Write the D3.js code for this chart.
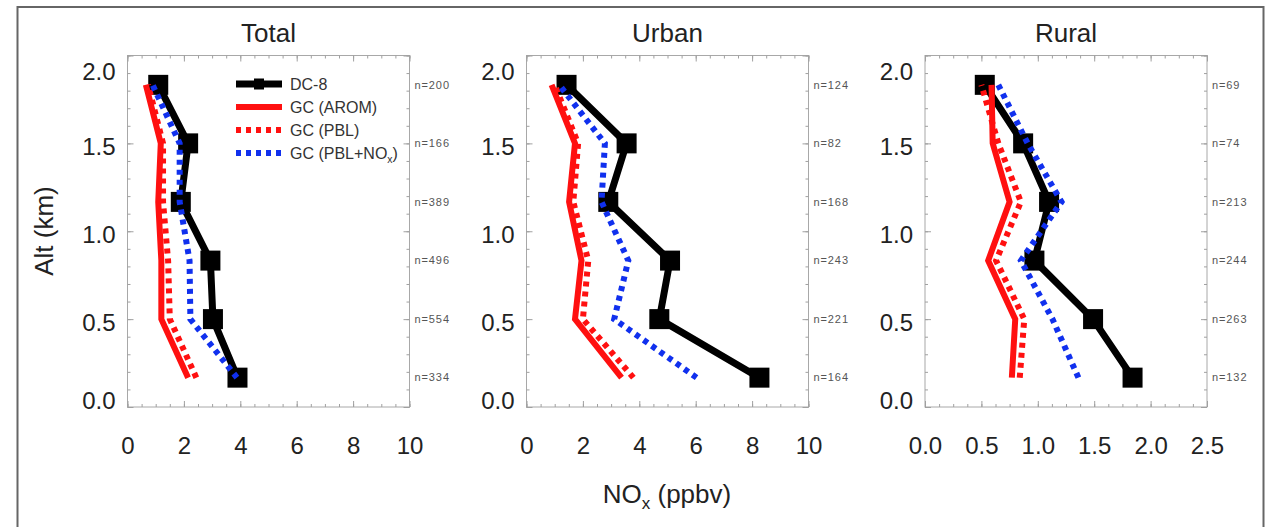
<!DOCTYPE html>
<html>
<head>
<meta charset="utf-8">
<script src="https://cdn.jsdelivr.net/npm/d3@7/dist/d3.min.js"></script>
<style>
  html, body { margin: 0; padding: 0; background: #fff; }
  svg { display: block; font-family: "Liberation Sans", Arial, Helvetica, sans-serif; }
</style>
</head>
<body>
<svg id="chart" width="1274" height="527"></svg>
<script>
// Altitude bin centres (km), bottom to top
const altitudes = [0.167, 0.5, 0.833, 1.167, 1.5, 1.833];

// NOx (ppbv) profiles, one value per altitude bin
const dc8Total    = [3.90, 3.03, 2.94, 1.89, 2.15, 1.09];
const aromTotal   = [2.15, 1.20, 1.20, 1.09, 1.18, 0.65];
const pblTotal    = [2.44, 1.50, 1.44, 1.26, 1.26, 0.73];
const pblNoxTotal = [3.88, 2.23, 2.20, 1.85, 1.85, 0.89];

const dc8Urban    = [8.26, 4.71, 5.09, 2.90, 3.55, 1.42];
const aromUrban   = [3.37, 1.72, 1.95, 1.51, 1.72, 0.89];
const pblUrban    = [3.79, 2.00, 2.19, 1.66, 1.83, 1.00];
const pblNoxUrban = [6.03, 3.11, 3.61, 2.66, 2.78, 1.16];

const dc8Rural    = [1.84, 1.49, 0.97, 1.10, 0.87, 0.53];
const aromRural   = [0.77, 0.80, 0.56, 0.75, 0.60, 0.59];
const pblRural    = [0.84, 0.88, 0.63, 0.85, 0.65, 0.50];
const pblNoxRural = [1.36, 1.13, 0.85, 1.21, 0.91, 0.65];

// Number of DC-8 observations in each bin
const nTotal = [334, 554, 496, 389, 166, 200];
const nUrban = [164, 221, 243, 168, 82, 124];
const nRural = [132, 263, 244, 213, 74, 69];

// Axis ticks
const yTickValues = [0, 0.5, 1.0, 1.5, 2.0];
const xTicksWide = [0, 2, 4, 6, 8, 10];
const xTicksRural = [0, 0.5, 1.0, 1.5, 2.0, 2.5];

const panelTitles = ["Total", "Urban", "Rural"];
const legendLabels = ["DC-8", "GC (AROM)", "GC (PBL)", "GC (PBL+NO", "x", ")"];

const panels = [
  { title: panelTitles[0], xTicks: xTicksWide, xFmt: d3.format("d"), series: [dc8Total, aromTotal, pblTotal, pblNoxTotal], n: nTotal },
  { title: panelTitles[1], xTicks: xTicksWide, xFmt: d3.format("d"), series: [dc8Urban, aromUrban, pblUrban, pblNoxUrban], n: nUrban },
  { title: panelTitles[2], xTicks: xTicksRural, xFmt: d3.format(".1f"), series: [dc8Rural, aromRural, pblRural, pblNoxRural], n: nRural }
];

const svg = d3.select("#chart");

// Outer frame
svg.append("rect")
  .attr("x", 17.5).attr("y", 7).attr("width", 1246).attr("height", 540)
  .attr("fill", "none").attr("stroke", "#666").attr("stroke-width", 2);

const boxLefts = [127.5, 526.5, 925];
const boxWidth = 282;
const boxTop = 55.5, boxBottom = 407;

const y = d3.scaleLinear().domain([0, 2]).range([boxBottom, boxTop]);

const styles = [
  { color: "#000", width: 7, dash: null },
  { color: "#ff1010", width: 6, dash: null },
  { color: "#ff1010", width: 6, dash: "5,5" },
  { color: "#1030ee", width: 6, dash: "5,5" }
];

panels.forEach((p, i) => {
  const left = boxLefts[i];
  const xMax = p.xTicks[p.xTicks.length - 1];
  const x = d3.scaleLinear().domain([0, xMax]).range([left, left + boxWidth]);
  const g = svg.append("g");
  const xStep = p.xTicks[1] - p.xTicks[0];
  const xMinor = d3.range(0, xMax + 1e-9, xStep / 4);
  const yMinor = d3.range(0, 2.0001, 0.1);

  // Box
  g.append("rect")
    .attr("x", left).attr("y", boxTop).attr("width", boxWidth).attr("height", boxBottom - boxTop)
    .attr("fill", "none").attr("stroke", "#a8a8a8").attr("stroke-width", 1);

  const tickStyle = sel => {
    sel.select(".domain").remove();
    sel.selectAll(".tick line").attr("stroke", "#a0a0a0");
  };

  // Minor ticks on all four sides, pointing inward
  g.append("g").attr("transform", `translate(0,${boxBottom})`)
    .call(d3.axisBottom(x).tickValues(xMinor).tickSize(-3).tickFormat("")).call(tickStyle);
  g.append("g").attr("transform", `translate(0,${boxTop})`)
    .call(d3.axisTop(x).tickValues(xMinor).tickSize(-3).tickFormat("")).call(tickStyle);
  g.append("g").attr("transform", `translate(${left},0)`)
    .call(d3.axisLeft(y).tickValues(yMinor).tickSize(-3).tickFormat("")).call(tickStyle);
  g.append("g").attr("transform", `translate(${left + boxWidth},0)`)
    .call(d3.axisRight(y).tickValues(yMinor).tickSize(-3).tickFormat("")).call(tickStyle);

  // Major ticks with labels
  const xAx = g.append("g").attr("transform", `translate(0,${boxBottom})`)
    .call(d3.axisBottom(x).tickValues(p.xTicks).tickSize(-6).tickPadding(29.5).tickFormat(p.xFmt))
    .call(tickStyle);
  xAx.selectAll("text").attr("font-size", 24).attr("fill", "#222")
    .attr("font-family", "'Liberation Sans', Arial, sans-serif");
  g.append("g").attr("transform", `translate(0,${boxTop})`)
    .call(d3.axisTop(x).tickValues(p.xTicks).tickSize(-6).tickFormat("")).call(tickStyle);

  const yAx = g.append("g").attr("transform", `translate(${left},0)`)
    .call(d3.axisLeft(y).tickValues(yTickValues).tickSize(-6).tickPadding(12).tickFormat(d3.format(".1f")))
    .call(tickStyle);
  yAx.selectAll("text").attr("font-size", 24).attr("fill", "#222")
    .attr("font-family", "'Liberation Sans', Arial, sans-serif")
    .attr("dy", d => d === 2 ? "0.98em" : d === 0 ? "0.05em" : "0.48em");
  g.append("g").attr("transform", `translate(${left + boxWidth},0)`)
    .call(d3.axisRight(y).tickValues(yTickValues).tickSize(-6).tickFormat("")).call(tickStyle);

  // Panel title
  g.append("text")
    .attr("x", left + boxWidth / 2).attr("y", 41.5)
    .attr("text-anchor", "middle").attr("font-size", 26).attr("fill", "#222")
    .text(p.title);

  // Profiles
  const line = d3.line().x(d => x(d[0])).y(d => y(d[1]));
  p.series.forEach((vals, k) => {
    const st = styles[k];
    const pts = vals.map((v, j) => [v, altitudes[j]]);
    const path = g.append("path")
      .attr("d", line(pts))
      .attr("fill", "none")
      .attr("stroke", st.color)
      .attr("stroke-width", st.width)
      .attr("stroke-linejoin", "miter")
      .attr("stroke-miterlimit", 3);
    if (st.dash) path.attr("stroke-dasharray", st.dash);
    if (k === 0) {
      g.selectAll("rect.obs").data(pts).enter().append("rect")
        .attr("class", "obs")
        .attr("x", d => x(d[0]) - 10).attr("y", d => y(d[1]) - 10)
        .attr("width", 20).attr("height", 20).attr("fill", "#000");
    }
  });

  // Observation counts
  g.selectAll("text.n").data(p.n).enter().append("text")
    .attr("class", "n")
    .attr("x", left + boxWidth + 5)
    .attr("y", (d, j) => y(altitudes[j]))
    .attr("dy", "0.35em")
    .attr("font-size", 11).attr("letter-spacing", 0.9).attr("fill", "#555")
    .text(d => "n=" + d);
});

// Legend (inside the Total panel)
const legend = svg.append("g");
const legendRows = [0, 1, 2, 3];
const legX0 = 236, legX1 = 282, legY0 = 84, legDy = 23;
legendRows.forEach(k => {
  const st = styles[k];
  const yy = legY0 + k * legDy;
  const ln = legend.append("line")
    .attr("x1", legX0).attr("x2", legX1).attr("y1", yy).attr("y2", yy)
    .attr("stroke", st.color).attr("stroke-width", k === 0 ? 7 : 6);
  if (st.dash) ln.attr("stroke-dasharray", st.dash);
  if (k === 0) {
    legend.append("rect").attr("x", (legX0 + legX1) / 2 - 5).attr("y", yy - 5.5)
      .attr("width", 10).attr("height", 11).attr("fill", "#000");
  }
  const t = legend.append("text")
    .attr("x", 290).attr("y", yy).attr("dy", "0.36em")
    .attr("font-size", 16).attr("fill", "#333");
  if (k < 3) {
    t.text(legendLabels[k]);
  } else {
    t.append("tspan").text(legendLabels[3]);
    t.append("tspan").attr("font-size", 10.5).attr("dy", 4).text(legendLabels[4]);
    t.append("tspan").attr("dy", -4).text(legendLabels[5]);
  }
});

// Axis titles
svg.append("text")
  .attr("transform", "translate(53,231) rotate(-90)")
  .attr("text-anchor", "middle").attr("font-size", 26).attr("fill", "#222")
  .text("Alt (km)");

const xt = svg.append("text")
  .attr("x", 667).attr("y", 503)
  .attr("text-anchor", "middle").attr("font-size", 26).attr("fill", "#222");
xt.append("tspan").text("NO");
xt.append("tspan").attr("font-size", 17).attr("dy", 6).text("x");
xt.append("tspan").attr("dy", -6).text(" (ppbv)");
</script>
</body>
</html>
